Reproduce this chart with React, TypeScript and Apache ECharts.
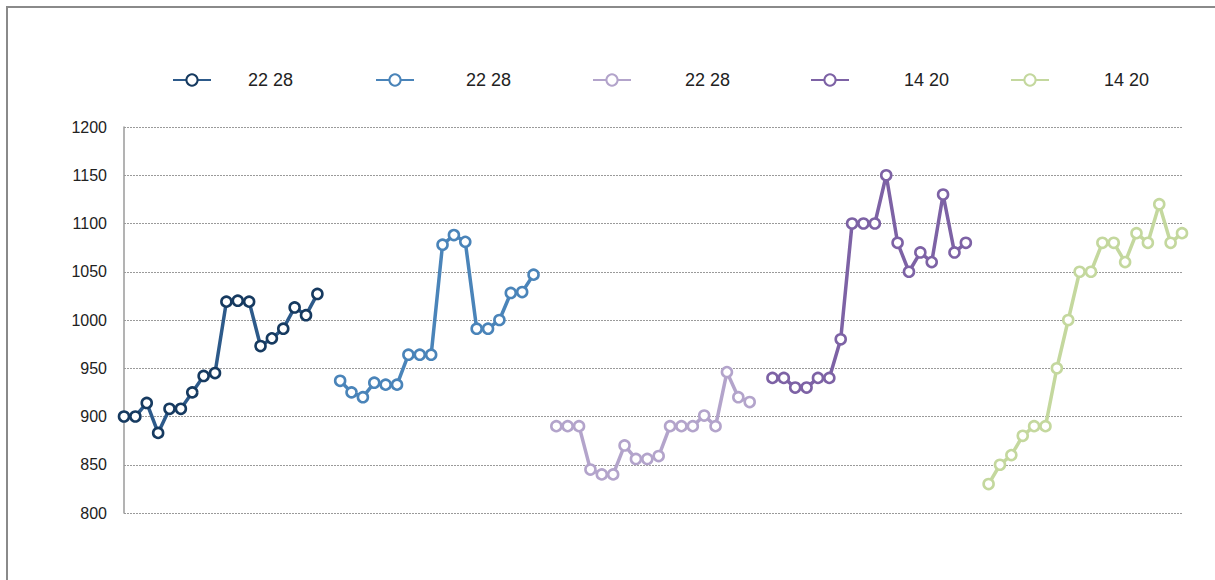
import React, { useEffect, useRef } from "react";
import * as echarts from "echarts";

const legendLabels = ["22 28", "22 28", "22 28", "14 20", "14 20"];
const seriesNames = ["s1", "s2", "s3", "s4", "s5"];

const values1 = [900, 900, 914, 883, 908, 908, 925, 942, 945, 1019, 1020, 1019, 973, 981, 991, 1013, 1005, 1027];
const values2 = [937, 925, 920, 935, 933, 933, 964, 964, 964, 1078, 1088, 1081, 991, 991, 1000, 1028, 1029, 1047];
const values3 = [890, 890, 890, 845, 840, 840, 870, 856, 856, 859, 890, 890, 890, 901, 890, 946, 920, 915];
const values4 = [940, 940, 930, 930, 940, 940, 980, 1100, 1100, 1100, 1150, 1080, 1050, 1070, 1060, 1130, 1070, 1080];
const values5 = [830, 850, 860, 880, 890, 890, 950, 1000, 1050, 1050, 1080, 1080, 1060, 1090, 1080, 1120, 1080, 1090];

const yTicks = [800, 850, 900, 950, 1000, 1050, 1100, 1150, 1200];

const lineColors = ["#2D5A8A", "#4A84B9", "#B3A4CB", "#7D62A5", "#C4D89E"];
const markerColors = ["#163A60", "#4A84B9", "#B3A4CB", "#7D62A5", "#C4D89E"];
const legendLefts = [172, 375, 592, 810, 1010];
const legendTextGaps = [32, 47, 49, 50, 50];

export default function App() {
  const ref = useRef<HTMLDivElement>(null);

  useEffect(() => {
    if (!ref.current) return;
    const chart = echarts.init(ref.current, undefined, { renderer: "svg" });
    const groups = [values1, values2, values3, values4, values5];
    const gap = 1;
    const total = groups.reduce((s, g) => s + g.length, 0) + gap * (groups.length - 1);
    const categories = Array.from({ length: total }, (_, i) => String(i + 1));

    let offset = 0;
    const series = groups.map((g, i) => {
      const data: (number | null)[] = new Array(total).fill(null);
      g.forEach((v, j) => (data[offset + j] = v));
      offset += g.length + gap;
      return {
        name: seriesNames[i],
        type: "line",
        data,
        symbol: "circle",
        symbolSize: 10,
        showSymbol: true,
        showAllSymbol: true,
        connectNulls: false,
        lineStyle: { color: lineColors[i], width: 3.5 },
        itemStyle: { color: "#ffffff", borderColor: markerColors[i], borderWidth: 2.6 },
        emphasis: { disabled: true },
      };
    });

    const legends = seriesNames.map((n, i) => ({
      data: [n],
      left: legendLefts[i],
      top: 71,
      padding: 0,
      itemWidth: 38,
      itemHeight: 14,
      formatter: () => legendLabels[i],
      textStyle: {
        fontSize: 18,
        color: "#222",
        fontFamily: "Liberation Sans, Arial, sans-serif",
        padding: [5, 0, 0, legendTextGaps[i]],
      },
      selectedMode: false,
    }));

    chart.setOption({
      animation: false,
      backgroundColor: "#ffffff",
      legend: legends,
      grid: { left: 124, right: 33, top: 127, bottom: 67 },
      xAxis: {
        type: "category",
        data: categories,
        boundaryGap: false,
        axisLine: { show: false },
        axisTick: { show: false },
        axisLabel: { show: false },
        splitLine: { show: false },
      },
      yAxis: {
        type: "value",
        min: yTicks[0],
        max: yTicks[yTicks.length - 1],
        interval: 50,
        axisLine: { show: true, lineStyle: { color: "#9a9a9a", width: 1.5 } },
        axisTick: { show: false },
        axisLabel: {
          fontSize: 16,
          color: "#222",
          margin: 17,
          fontFamily: "Liberation Sans, Arial, sans-serif",
          formatter: (v: number) => String(v),
        },
        splitLine: { show: true, lineStyle: { color: "#9a9a9a", type: [2, 1], width: 1 } },
      },
      series,
    });
    return () => chart.dispose();
  }, []);

  return (
    <>
      <div
        ref={ref}
        style={{ position: "fixed", left: 0, top: 0, width: 1215, height: 580 }}
      />
      <div
        style={{
          position: "fixed",
          left: 6,
          top: 6,
          width: 1215,
          height: 600,
          borderTop: "2px solid #8a8a8a",
          borderLeft: "2px solid #8a8a8a",
          pointerEvents: "none",
        }}
      />
    </>
  );
}
